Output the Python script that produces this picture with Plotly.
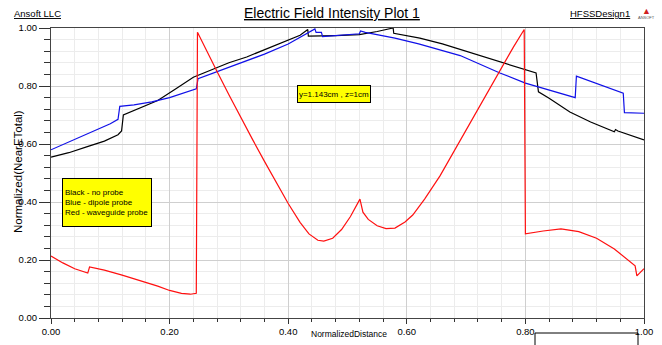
import plotly.graph_objects as go

# ---------------- data ----------------
black_x = [0.0, 0.03, 0.06, 0.09, 0.113, 0.119, 0.122, 0.15, 0.18, 0.21, 0.24, 0.27, 0.30, 0.33,
           0.36, 0.39, 0.42, 0.433, 0.434, 0.48, 0.52, 0.55, 0.577, 0.578, 0.60, 0.622, 0.66,
           0.69, 0.72, 0.757, 0.79, 0.818, 0.822, 0.84, 0.875, 0.91, 0.95, 0.952, 0.956, 1.0]
black_y = [0.555, 0.57, 0.59, 0.61, 0.632, 0.645, 0.70, 0.725, 0.75, 0.79, 0.83, 0.855, 0.88, 0.90,
           0.925, 0.95, 0.975, 0.995, 0.972, 0.974, 0.977, 0.988, 1.0, 0.982, 0.973, 0.965, 0.945,
           0.926, 0.908, 0.884, 0.865, 0.845, 0.78, 0.758, 0.71, 0.676, 0.642, 0.65, 0.645, 0.614]

blue_x = [0.0, 0.05, 0.10, 0.113, 0.116, 0.14, 0.17, 0.20, 0.245, 0.248, 0.28, 0.32, 0.36, 0.40,
          0.445, 0.447, 0.456, 0.458, 0.52, 0.522, 0.53, 0.58, 0.62, 0.69, 0.757, 0.80, 0.84,
          0.884, 0.886, 0.965, 0.967, 1.0]
blue_y = [0.58, 0.625, 0.67, 0.685, 0.73, 0.735, 0.745, 0.76, 0.79, 0.825, 0.85, 0.88, 0.91, 0.945,
          0.997, 0.985, 0.985, 0.97, 0.98, 0.99, 0.985, 0.965, 0.945, 0.905, 0.845, 0.81, 0.786,
          0.76, 0.834, 0.775, 0.708, 0.706]

red_x = [0.0, 0.02, 0.04, 0.06, 0.062, 0.065, 0.09, 0.12, 0.15, 0.18, 0.20, 0.22, 0.235, 0.245,
         0.247, 0.26, 0.28, 0.30, 0.32, 0.34, 0.36, 0.38, 0.40, 0.42, 0.435, 0.45, 0.46, 0.475,
         0.49, 0.505, 0.515, 0.521, 0.526, 0.535, 0.55, 0.565, 0.58, 0.597, 0.61, 0.63, 0.656,
         0.69, 0.723, 0.757, 0.78, 0.798, 0.80, 0.83, 0.86, 0.89, 0.92, 0.95, 0.97, 0.985,
         0.988, 1.0]
red_y = [0.214, 0.19, 0.17, 0.157, 0.155, 0.176, 0.165, 0.148, 0.13, 0.11, 0.095, 0.085, 0.082, 0.085,
         0.985, 0.93, 0.85, 0.77, 0.69, 0.615, 0.54, 0.465, 0.395, 0.33, 0.29, 0.268, 0.265, 0.275,
         0.305, 0.35, 0.385, 0.41, 0.365, 0.34, 0.318, 0.308, 0.31, 0.331, 0.355, 0.41, 0.49,
         0.612, 0.733, 0.855, 0.935, 0.995, 0.29, 0.30, 0.307, 0.298, 0.275, 0.238, 0.205, 0.18,
         0.145, 0.17]

x_ticks = [0.0, 0.2, 0.4, 0.6, 0.8, 1.0]
x_tick_labels = ["0.00", "0.20", "0.40", "0.60", "0.80", "1.00"]
y_ticks = [0.0, 0.2, 0.4, 0.6, 0.8, 1.0]
y_tick_labels = ["0.00", "0.20", "0.40", "0.60", "0.80", "1.00"]

title_text = "Electric Field Intensity Plot 1"
x_title = "NormalizedDistance"
y_title = "Normalized(NearETotal)"
legend_lines = ["Black - no probe", "Blue - dipole probe", "Red - waveguide probe"]
note_text = "y=1.143cm , z=1cm"

# ---------------- figure ----------------
FONT = "Liberation Sans, Arial, sans-serif"

fig = go.Figure()
fig.add_trace(go.Scatter(x=black_x, y=black_y, mode="lines", line=dict(color="#000000", width=1.2)))
fig.add_trace(go.Scatter(x=blue_x, y=blue_y, mode="lines", line=dict(color="#1010e8", width=1.2)))
fig.add_trace(go.Scatter(x=red_x, y=red_y, mode="lines", line=dict(color="#ff1010", width=1.2)))

W, H = 662, 345
L, R, T, B = 51, 18, 28, 27

fig.update_layout(
    width=W, height=H,
    margin=dict(l=L, r=R, t=T, b=B, autoexpand=False),
    paper_bgcolor="white", plot_bgcolor="white",
    showlegend=False,
    font=dict(family=FONT, size=9, color="#000000"),
)

fig.update_xaxes(
    range=[0, 1], tickvals=x_ticks, ticktext=x_tick_labels,
    ticks="outside", ticklen=5, tickcolor="#333333", tickfont=dict(family=FONT, size=9.5),
    showgrid=True, gridcolor="#cfcfcf", gridwidth=1,
    minor=dict(dtick=0.04, ticks="outside", ticklen=3, tickcolor="#333333",
               showgrid=True, gridcolor="#ececec", gridwidth=1),
    showline=True, linecolor="#444444", linewidth=1, mirror=True,
    zeroline=False, fixedrange=True,
)
fig.update_yaxes(
    range=[0, 1], tickvals=y_ticks, ticktext=y_tick_labels,
    ticks="outside", ticklen=11, tickcolor="#333333", tickfont=dict(family=FONT, size=9.5),
    showgrid=True, gridcolor="#cfcfcf", gridwidth=1,
    minor=dict(dtick=0.04, ticks="outside", ticklen=6, tickcolor="#333333",
               showgrid=True, gridcolor="#ececec", gridwidth=1),
    showline=True, linecolor="#444444", linewidth=1, mirror=True,
    zeroline=False, fixedrange=True,
)

pw = W - L - R
ph = H - T - B


def px(xp):
    return (xp - L) / pw


def py(yp):
    return (H - B - yp) / ph


ann = []
ann.append(dict(text="<u>" + title_text + "</u>", x=px(332), y=py(13), xref="paper", yref="paper",
                showarrow=False, font=dict(family=FONT, size=14), xanchor="center", yanchor="middle"))
ann.append(dict(text="<u>Ansoft LLC</u>", x=px(12), y=py(14), xref="paper", yref="paper",
                showarrow=False, font=dict(family=FONT, size=9.5), xanchor="left", yanchor="middle"))
ann.append(dict(text="<u>HFSSDesign1</u>", x=px(632), y=py(14), xref="paper", yref="paper",
                showarrow=False, font=dict(family=FONT, size=9.5), xanchor="right", yanchor="middle"))
ann.append(dict(text="▲", x=px(646), y=py(11), xref="paper", yref="paper",
                showarrow=False, font=dict(family=FONT, size=9, color="#d02020"), xanchor="center", yanchor="middle"))
ann.append(dict(text="ANSOFT", x=px(646), y=py(18), xref="paper", yref="paper",
                showarrow=False, font=dict(family=FONT, size=4, color="#555555"), xanchor="center", yanchor="middle"))
ann.append(dict(text=x_title, x=px(349), y=py(334), xref="paper", yref="paper",
                showarrow=False, font=dict(family=FONT, size=8.5), xanchor="center", yanchor="middle"))
ann.append(dict(text=y_title, x=px(18), y=py(172), xref="paper", yref="paper", textangle=-90,
                showarrow=False, font=dict(family=FONT, size=11.5), xanchor="center", yanchor="middle"))
ann.append(dict(text="<br>".join(legend_lines), x=px(62), y=py(178), xref="paper", yref="paper",
                showarrow=False, font=dict(family=FONT, size=8), xanchor="left", yanchor="top",
                align="left", bgcolor="#ffff00", bordercolor="#000000", borderwidth=1, borderpad=2,
                width=84, height=43, valign="middle"))
ann.append(dict(text=note_text, x=px(297), y=py(85), xref="paper", yref="paper",
                showarrow=False, font=dict(family=FONT, size=8), xanchor="left", yanchor="top",
                align="center", bgcolor="#ffff00", bordercolor="#000000", borderwidth=1, borderpad=1,
                width=70, height=14, valign="middle"))
fig.update_layout(annotations=ann)

# partly visible box at the bottom right (open at the bottom edge of the picture)
bx0, bx1, by0, by1 = px(535), px(638), py(333), py(345)
fig.add_shape(type="path", xref="paper", yref="paper",
              path=f"M {bx0},{by1} L {bx0},{by0} L {bx1},{by0} L {bx1},{by1}",
              line=dict(color="#000000", width=1))

fig.write_html("out.html")
